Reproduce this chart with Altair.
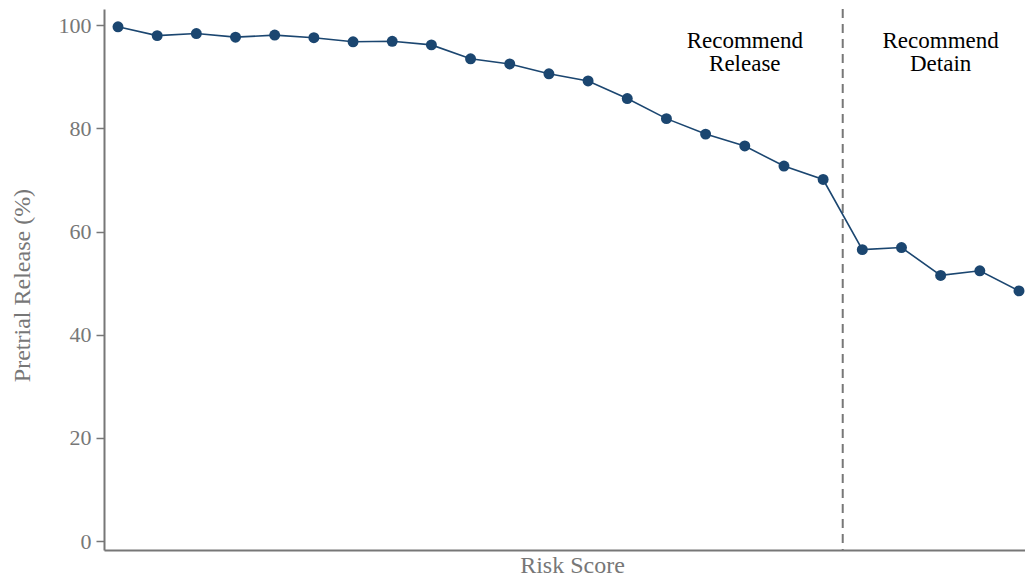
import altair as alt
import pandas as pd

risk_score = list(range(1, 25))
release_pct = [99.7, 98.0, 98.4, 97.7, 98.1, 97.6, 96.8, 96.9, 96.2, 93.5,
               92.5, 90.6, 89.2, 85.8, 81.9, 78.9, 76.6, 72.7, 70.1,
               56.5, 56.9, 51.5, 52.4, 48.5]
cutoff = [19.5]
label_x = [17, 22]
label_y = [97.0, 97.0]
label_text = [["Recommend", "Release"], ["Recommend", "Detain"]]

df = pd.DataFrame({"score": risk_score, "pct": release_pct})
cut_df = pd.DataFrame({"x": cutoff})
lab_df = pd.DataFrame({"x": label_x, "y": label_y, "t": label_text})

FONT = "Liberation Serif"
GRAY = "#777777"
BLUE = "#1b4670"

xs = alt.Scale(domain=[0.6426, 24.153], nice=False, zero=False)
ys = alt.Scale(domain=[-1.745, 103.16], nice=False, zero=False)

x_enc = alt.X("score:Q", scale=xs,
              axis=alt.Axis(title="Risk Score", labels=False, ticks=False, grid=False,
                            domainColor=GRAY, domainWidth=2,
                            titleFont=FONT, titleFontSize=24, titleFontWeight="normal",
                            titleColor=GRAY, titleX=468, titleY=22,
                            titleBaseline="alphabetic", titleAlign="center"))
y_enc = alt.Y("pct:Q", scale=ys,
              axis=alt.Axis(title="Pretrial Release (%)", values=[0, 20, 40, 60, 80, 100],
                            grid=False, domainColor=GRAY, domainWidth=2,
                            tickColor=GRAY, tickSize=8, tickWidth=1.5,
                            labelFont=FONT, labelFontSize=22, labelColor=GRAY,
                            labelPadding=5,
                            titleFont=FONT, titleFontSize=24, titleFontWeight="normal",
                            titleColor=GRAY, titleX=-82, titleY=276,
                            titleBaseline="middle", titleAlign="center"))

line = alt.Chart(df).mark_line(color=BLUE, strokeWidth=1.6).encode(x=x_enc, y=y_enc)
pts = alt.Chart(df).mark_circle(color=BLUE, size=120, opacity=1).encode(x="score:Q", y="pct:Q")
rule = alt.Chart(cut_df).mark_rule(color=GRAY, strokeWidth=2, strokeDash=[9, 6]).encode(
    x=alt.X("x:Q", scale=xs))
labels = alt.Chart(lab_df).mark_text(font=FONT, fontSize=23, color="black",
                                     align="center", baseline="middle", lineHeight=23).encode(
    x=alt.X("x:Q", scale=xs), y=alt.Y("y:Q", scale=ys), text="t")

chart = alt.layer(rule, line, pts, labels).properties(
    width=921, height=541,
    background="white",
    autosize=alt.AutoSizeParams(type="none"),
    padding={"left": 96, "top": 1, "right": 0, "bottom": 28},
).configure_view(stroke=None)

chart.save("out.html", embed_options={"renderer": "svg", "actions": False})
